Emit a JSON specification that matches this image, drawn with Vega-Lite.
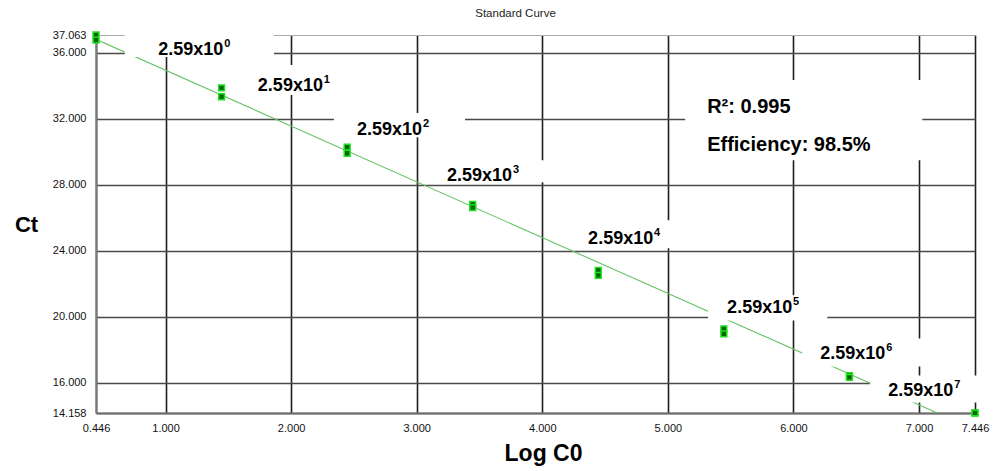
{
  "$schema": "https://vega.github.io/schema/vega-lite/v6.json",
  "width": 879,
  "height": 378,
  "autosize": {"type": "none"},
  "padding": {"left": 96, "top": 35, "right": 27, "bottom": 58},
  "background": "white",
  "title": {"text": "Standard Curve", "font": "Liberation Sans", "fontSize": 11.5, "fontWeight": "normal", "color": "#222222", "anchor": "middle", "frame": "group", "dx": -20, "offset": 10},
  "config": {"view": {"stroke": null}},
  "datasets": {
    "points": [
      {"logC0": 0.446, "Ct": 37.063}, {"logC0": 0.446, "Ct": 36.75},
      {"logC0": 1.446, "Ct": 33.86}, {"logC0": 1.446, "Ct": 33.32},
      {"logC0": 2.446, "Ct": 30.27}, {"logC0": 2.446, "Ct": 29.9},
      {"logC0": 3.446, "Ct": 26.8}, {"logC0": 3.446, "Ct": 26.6},
      {"logC0": 4.446, "Ct": 22.8}, {"logC0": 4.446, "Ct": 22.5},
      {"logC0": 5.446, "Ct": 19.25}, {"logC0": 5.446, "Ct": 18.95},
      {"logC0": 6.446, "Ct": 16.42}, {"logC0": 6.446, "Ct": 16.32},
      {"logC0": 7.446, "Ct": 14.158}, {"logC0": 7.446, "Ct": 14.17}
    ],
    "fit": [
      {"logC0": 0.446, "Ct": 36.8},
      {"logC0": 7.446, "Ct": 13.14}
    ],
    "boxes": [
      {"logC0": 0.675, "logC0_end": 1.863, "Ct": 37.184, "Ct_end": 35.728},
      {"logC0": 1.671, "logC0_end": 2.428, "Ct": 35.243, "Ct_end": 33.422},
      {"logC0": 2.341, "logC0_end": 3.385, "Ct": 32.33, "Ct_end": 30.874},
      {"logC0": 3.185, "logC0_end": 4.022, "Ct": 29.478, "Ct_end": 28.143},
      {"logC0": 4.301, "logC0_end": 5.058, "Ct": 25.837, "Ct_end": 24.138},
      {"logC0": 5.321, "logC0_end": 6.269, "Ct": 21.286, "Ct_end": 19.77},
      {"logC0": 6.07, "logC0_end": 7.05, "Ct": 18.677, "Ct_end": 16.978},
      {"logC0": 6.612, "logC0_end": 7.528, "Ct": 16.433, "Ct_end": 14.794},
      {"logC0": 5.138, "logC0_end": 7.026, "Ct": 34.332, "Ct_end": 29.478}
    ],
    "labels": [
      {"logC0": 0.941, "Ct": 35.849, "base": "2.59x10", "exp": "0"},
      {"logC0": 1.735, "Ct": 33.665, "base": "2.59x10", "exp": "1"},
      {"logC0": 2.524, "Ct": 30.995, "base": "2.59x10", "exp": "2"},
      {"logC0": 3.241, "Ct": 28.222, "base": "2.59x10", "exp": "3"},
      {"logC0": 4.365, "Ct": 24.381, "base": "2.59x10", "exp": "4"},
      {"logC0": 5.472, "Ct": 20.212, "base": "2.59x10", "exp": "5"},
      {"logC0": 6.213, "Ct": 17.403, "base": "2.59x10", "exp": "6"},
      {"logC0": 6.755, "Ct": 15.218, "base": "2.59x10", "exp": "7"}
    ],
    "stats": [
      {"logC0": 5.313, "Ct": 32.33, "text": "R²: 0.995"},
      {"logC0": 5.313, "Ct": 30.042, "text": "Efficiency: 98.5%"}
    ]
  },
  "encoding": {
    "x": {
      "field": "logC0", "type": "quantitative",
      "scale": {"domain": [0.446, 7.446], "nice": false, "zero": false},
      "axis": {
        "title": "Log C0", "values": [0.446, 1, 2, 3, 4, 5, 6, 7, 7.446], "format": ".3f",
        "labelFont": "Liberation Sans", "labelFontSize": 11, "labelColor": "#111111", "labelPadding": 9,
        "labelFlush": false, "labelOverlap": false, "ticks": false,
        "domainColor": "#6e6e6e", "domainWidth": 2,
        "grid": true, "gridColor": "#1e1e1e", "gridWidth": 1.6, "gridOpacity": 1,
        "titleFont": "Liberation Sans", "titleFontSize": 23, "titleFontWeight": "bold", "titleColor": "#000000",
        "titleX": 447, "titleY": 47, "titleAlign": "center", "titleBaseline": "alphabetic"
      }
    },
    "y": {
      "field": "Ct", "type": "quantitative",
      "scale": {"domain": [14.158, 37.063], "nice": false, "zero": false},
      "axis": {
        "title": "Ct", "values": [14.158, 16, 20, 24, 28, 32, 36, 37.063], "format": ".3f",
        "labelFont": "Liberation Sans", "labelFontSize": 11, "labelColor": "#111111", "labelPadding": 10,
        "labelFlush": false, "labelOverlap": false, "ticks": false,
        "domainColor": "#7a7a7a", "domainWidth": 2,
        "grid": true,
        "gridColor": {"condition": {"test": "datum.value > 37", "value": "#aaaaaa"}, "value": "#4a4a4a"},
        "gridWidth": {"condition": {"test": "datum.value > 37", "value": 1}, "value": 1.6},
        "gridOpacity": 1,
        "titleFont": "Liberation Sans", "titleFontSize": 22, "titleFontWeight": "bold", "titleColor": "#000000",
        "titleAngle": 0, "titleX": -70, "titleY": 189, "titleAlign": "center", "titleBaseline": "middle"
      }
    }
  },
  "layer": [
    {
      "data": {"name": "fit"},
      "mark": {"type": "line", "color": "#66c466", "strokeWidth": 1.1, "clip": true},
      "encoding": {}
    },
    {
      "data": {"name": "boxes"},
      "mark": {"type": "rect", "fill": "white", "stroke": null, "clip": false},
      "encoding": {
        "x2": {"field": "logC0_end"},
        "y2": {"field": "Ct_end"}
      }
    },
    {
      "data": {"name": "points"},
      "mark": {"type": "point", "shape": "square", "size": 34, "filled": true, "fill": "#006a00", "stroke": "#1ee01e", "strokeWidth": 1.5, "opacity": 1, "clip": false},
      "encoding": {}
    },
    {
      "data": {"name": "labels"},
      "mark": {"type": "text", "font": "Liberation Sans", "fontSize": 18, "fontWeight": "bold", "color": "#000000", "align": "left", "baseline": "alphabetic"},
      "encoding": {"text": {"field": "base"}}
    },
    {
      "data": {"name": "labels"},
      "mark": {"type": "text", "font": "Liberation Sans", "fontSize": 11, "fontWeight": "bold", "color": "#000000", "align": "left", "baseline": "alphabetic", "dx": 66, "dy": -8},
      "encoding": {"text": {"field": "exp"}}
    },
    {
      "data": {"name": "stats"},
      "mark": {"type": "text", "font": "Liberation Sans", "fontSize": 20, "fontWeight": "bold", "color": "#000000", "align": "left", "baseline": "alphabetic"},
      "encoding": {"text": {"field": "text"}}
    }
  ]
}
